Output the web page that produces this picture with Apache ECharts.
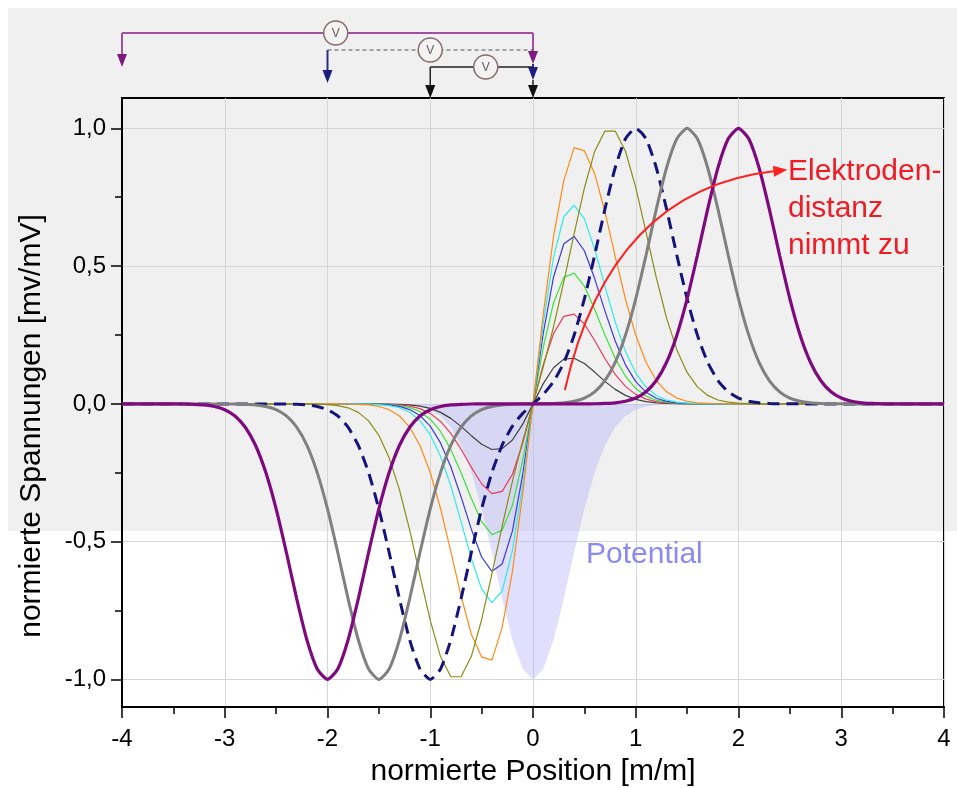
<!DOCTYPE html>
<html><head><meta charset="utf-8">
<script src="https://cdn.jsdelivr.net/npm/echarts@6/dist/echarts.min.js"></script>
<style>html,body{margin:0;padding:0;background:#fff}#c{width:957px;height:788px}</style>
</head><body><div id="c"></div>
<script>
// shared x grid (normierte Position)
const xGrid=[-4,-3.9,-3.8,-3.7,-3.6,-3.5,-3.4,-3.3,-3.2,-3.1,-3,-2.9,-2.8,-2.7,-2.6,-2.5,-2.4,-2.3,-2.2,-2.1,-2,-1.9,-1.8,-1.7,-1.6,-1.5,-1.4,-1.3,-1.2,-1.1,-1,-0.9,-0.8,-0.7,-0.6,-0.5,-0.4,-0.3,-0.2,-0.1,0,0.1,0.2,0.3,0.4,0.5,0.6,0.7,0.8,0.9,1,1.1,1.2,1.3,1.4,1.5,1.6,1.7,1.8,1.9,2,2.1,2.2,2.3,2.4,2.5,2.6,2.7,2.8,2.9,3,3.1,3.2,3.3,3.4,3.5,3.6,3.7,3.8,3.9,4];

const potential=[0,0,0,0,0, 0,0,0,0,0, 0,0,0,0,0, 0,0,0,0,0, 0,0,0,0,0,
 -0.0002,-0.0005,-0.0015,-0.0039,-0.0094,-0.0211,-0.0439,-0.0847,-0.151,-0.2494,-0.3812,-0.5394,-0.7067,-0.857,-0.9622,
 -1,
 -0.9622,-0.857,-0.7067,-0.5394,-0.3812,-0.2494,-0.151,-0.0847,-0.0439,-0.0211,-0.0094,-0.0039,-0.0015,-0.0005,-0.0002,
 0,0,0,0,0, 0,0,0,0,0, 0,0,0,0,0, 0,0,0,0,0, 0,0,0,0,0];

const vBlack=[0,0,0,0,0, 0,0,0,0,0, 0,0,0,0,0, 0,0,0,0,0, 0,0,0,0,0,
 -0.0002,-0.0006,-0.0015,-0.0037,-0.0081,-0.0165,-0.0309,-0.0526,-0.0817,-0.1154,-0.1465,-0.1656,-0.1623,-0.1312,-0.0735,
 0,
 0.0735,0.1312,0.1623,0.1656,0.1465,0.1154,0.0817,0.0526,0.0309,0.0165,0.0081,0.0037,0.0015,0.0006,0.0002,
 0,0,0,0,0, 0,0,0,0,0, 0,0,0,0,0, 0,0,0,0,0, 0,0,0,0,0];

const vRed=[0,0,0,0,0, 0,0,0,0,0, 0,0,0,0,0, 0,0,0,0,0, 0,0,0,0,
 -0.0002,-0.0005,-0.0013,-0.0034,-0.0079,-0.0172,-0.0345,-0.0636,-0.1071,-0.1647,-0.2302,-0.29,-0.3255,-0.3176,-0.2555,-0.143,
 0,
 0.143,0.2555,0.3176,0.3255,0.29,0.2302,0.1647,0.1071,0.0636,0.0345,0.0172,0.0079,0.0034,0.0013,0.0005,0.0002,
 0,0,0,0,0, 0,0,0,0,0, 0,0,0,0,0, 0,0,0,0,0, 0,0,0,0];

const vGreen=[0,0,0,0,0, 0,0,0,0,0, 0,0,0,0,0, 0,0,0,0,0, 0,0,0,
 -0.0001,-0.0003,-0.0009,-0.0023,-0.0058,-0.0133,-0.0283,-0.0555,-0.1,-0.1652,-0.2497,-0.3436,-0.4275,-0.4744,-0.4591,-0.367,-0.2047,
 0,
 0.2047,0.367,0.4591,0.4744,0.4275,0.3436,0.2497,0.1652,0.1,0.0555,0.0283,0.0133,0.0058,0.0023,0.0009,0.0003,0.0001,
 0,0,0,0,0, 0,0,0,0,0, 0,0,0,0,0, 0,0,0,0,0, 0,0,0];

const vBlue=[0,0,0,0,0, 0,0,0,0,0, 0,0,0,0,0, 0,0,0,0,0, 0,0,0,
 -0.0002,-0.0005,-0.0015,-0.0039,-0.0092,-0.0206,-0.0424,-0.0808,-0.1416,-0.2283,-0.3373,-0.4547,-0.5557,-0.6076,-0.581,-0.4606,-0.2555,
 0,
 0.2555,0.4606,0.581,0.6076,0.5557,0.4547,0.3373,0.2283,0.1416,0.0808,0.0424,0.0206,0.0092,0.0039,0.0015,0.0005,0.0002,
 0,0,0,0,0, 0,0,0,0,0, 0,0,0,0,0, 0,0,0,0,0, 0,0,0];

const vCyan=[0,0,0,0,0, 0,0,0,0,0, 0,0,0,0,0, 0,0,0,0,0, 0,0,
 -0.0001,-0.0003,-0.0009,-0.0024,-0.0061,-0.0141,-0.0304,-0.0607,-0.1118,-0.1898,-0.2971,-0.4271,-0.5618,-0.6715,-0.721,-0.6791,-0.5326,-0.2935,
 0,
 0.2935,0.5326,0.6791,0.721,0.6715,0.5618,0.4271,0.2971,0.1898,0.1118,0.0607,0.0304,0.0141,0.0061,0.0024,0.0009,0.0003,0.0001,
 0,0,0,0,0, 0,0,0,0,0, 0,0,0,0,0, 0,0,0,0,0, 0,0];

const vOrange=[0,0,0,0,0, 0,0,0,0,0, 0,0,0,0,0, 0,0,0,0,0, 0,
 -0.0002,-0.0005,-0.0015,-0.0039,-0.0094,-0.0211,-0.0439,-0.0847,-0.1508,-0.2489,-0.3797,-0.5355,-0.6973,-0.8359,-0.9183,-0.93,-0.8112,-0.6076,-0.3255,
 0,
 0.3255,0.6076,0.8112,0.93,0.9183,0.8359,0.6973,0.5355,0.3797,0.2489,0.1508,0.0847,0.0439,0.0211,0.0094,0.0039,0.0015,0.0005,0.0002,
 0,0,0,0,0, 0,0,0,0,0, 0,0,0,0,0, 0,0,0,0,0, 0];

const vOlive=[0,0,0,0,0, 0,0,0,0,0, 0,0,0,0,0, 0,0,
 -0.0001,-0.0003,-0.0009,-0.0024,-0.0061,-0.0142,-0.0307,-0.0616,-0.1142,-0.1959,-0.3113,-0.4578,-0.6234,-0.7857,-0.9169,-0.9903,-0.9901,-0.916,-0.7833,-0.6173,-0.4436,-0.2806,-0.1343,
 0,
 0.1343,0.2806,0.4436,0.6173,0.7833,0.916,0.9901,0.9903,0.9169,0.7857,0.6234,0.4578,0.3113,0.1959,0.1142,0.0616,0.0307,0.0142,0.0061,0.0024,0.0009,0.0003,0.0001,
 0,0,0,0,0, 0,0,0,0,0, 0,0,0,0,0, 0,0];

const vNavy=[0,0,0,0,0, 0,0,0,0,0, 0,0,0,0,0,
 -0.0002,-0.0005,-0.0015,-0.0039,-0.0094,-0.0211,-0.0439,-0.0847,-0.151,-0.2494,-0.3812,-0.5394,-0.7067,-0.857,-0.9622,-1,-0.9622,-0.857,-0.7067,-0.5394,-0.381,-0.2489,-0.1495,-0.0808,-0.0345,
 0,
 0.0345,0.0808,0.1495,0.2489,0.381,0.5394,0.7067,0.857,0.9622,1,0.9622,0.857,0.7067,0.5394,0.3812,0.2494,0.151,0.0847,0.0439,0.0211,0.0094,0.0039,0.0015,0.0005,0.0002,
 0,0,0,0,0, 0,0,0,0,0, 0,0,0,0,0];

const vGray=[0,0,0,0,0, 0,0,0,0,0,
 -0.0002,-0.0005,-0.0015,-0.0039,-0.0094,-0.0211,-0.0439,-0.0847,-0.151,-0.2494,-0.3812,-0.5394,-0.7067,-0.857,-0.9622,-1,-0.9622,-0.857,-0.7067,-0.5394,-0.3812,-0.2494,-0.151,-0.0847,-0.0439,-0.0211,-0.0094,-0.0039,-0.0015,-0.0005,
 0,
 0.0005,0.0015,0.0039,0.0094,0.0211,0.0439,0.0847,0.151,0.2494,0.3812,0.5394,0.7067,0.857,0.9622,1,0.9622,0.857,0.7067,0.5394,0.3812,0.2494,0.151,0.0847,0.0439,0.0211,0.0094,0.0039,0.0015,0.0005,0.0002,
 0,0,0,0,0, 0,0,0,0,0];

const vPurple=[0,0,0,0,0,
 -0.0002,-0.0005,-0.0015,-0.0039,-0.0094,-0.0211,-0.0439,-0.0847,-0.151,-0.2494,-0.3812,-0.5394,-0.7067,-0.857,-0.9622,-1,-0.9622,-0.857,-0.7067,-0.5394,-0.3812,-0.2494,-0.151,-0.0847,-0.0439,-0.0211,-0.0094,-0.0039,-0.0015,-0.0005,-0.0002,0,0,0,0,
 0,
 0,0,0,0,0.0002,0.0005,0.0015,0.0039,0.0094,0.0211,0.0439,0.0847,0.151,0.2494,0.3812,0.5394,0.7067,0.857,0.9622,1,0.9622,0.857,0.7067,0.5394,0.3812,0.2494,0.151,0.0847,0.0439,0.0211,0.0094,0.0039,0.0015,0.0005,0.0002,
 0,0,0,0,0];

const yLabelValues=[-1,-0.5,0,0.5,1];
const yMinorValues=[-0.75,-0.25,0.25,0.75];

const FONT='"Liberation Sans", Arial, sans-serif';
const pairs=ys=>xGrid.map((x,i)=>[x,ys[i]]);
const chart=echarts.init(document.getElementById('c'),null,{renderer:'canvas'});

function thin(name,ys,color){
  return {name,type:'line',data:pairs(ys),showSymbol:false,symbol:'none',z:3,
    lineStyle:{color,width:1.2},emphasis:{disabled:true}};
}
function thick(name,ys,color,width,type,z){
  return {name,type:'line',data:pairs(ys),showSymbol:false,symbol:'none',z:z,smooth:0.2,
    lineStyle:{color,width,type},emphasis:{disabled:true}};
}
const option={
  animation:false,
  grid:{left:122,right:13,top:98,bottom:81,show:true,borderColor:'#000',borderWidth:2,
    backgroundColor:'transparent',containLabel:false,outerBoundsMode:'none'},
  xAxis:{type:'value',min:-4,max:4,interval:1,
    name:'normierte Position [m/m]',nameLocation:'middle',nameGap:50,
    nameTextStyle:{fontSize:30,color:'#000',fontFamily:FONT},
    axisLine:{show:true,onZero:false,lineStyle:{color:'#000',width:2}},
    axisTick:{show:true,inside:false,length:11,lineStyle:{color:'#000',width:1.5}},
    minorTick:{show:true,splitNumber:2,length:7,lineStyle:{color:'#000',width:1.5}},
    axisLabel:{fontSize:24,color:'#000',fontFamily:FONT,margin:20},
    splitLine:{show:true,lineStyle:{color:'#d6d6d6',width:1}}},
  yAxis:[{type:'value',min:-1.1,max:1.11,
    axisLine:{show:true,onZero:false,lineStyle:{color:'#000',width:2}},
    axisTick:{show:true,length:11,customValues:yLabelValues,lineStyle:{color:'#000',width:1.5}},
    axisLabel:{fontSize:24,color:'#000',fontFamily:FONT,margin:16,customValues:yLabelValues,
      formatter:v=>v.toFixed(1).replace('.',',')},
    splitLine:{show:true,lineStyle:{color:'#d6d6d6',width:1}}},
   {type:'value',min:-1.1,max:1.11,position:'left',
    axisLine:{show:false,onZero:false},axisLabel:{show:false},splitLine:{show:false},
    axisTick:{show:true,length:7,customValues:yMinorValues,lineStyle:{color:'#000',width:1.5}}}],
  series:[
    {name:'Potential',type:'line',data:pairs(potential),showSymbol:false,symbol:'none',z:1,
      lineStyle:{width:0,opacity:0},areaStyle:{color:'rgba(180,180,250,0.6)',origin:'auto'}},
    thin('d1',vBlack,'#404040'),
    thin('d2',vRed,'#ea3a5c'),
    thin('d3',vGreen,'#3ee03e'),
    thin('d4',vBlue,'#3a3ae0'),
    thin('d5',vCyan,'#2eeaea'),
    thin('d6',vOrange,'#ff8a1a'),
    thin('d7',vOlive,'#8c8c18'),
    thick('d8',vNavy,'#14147a',3,[12,7],4),
    thick('d9',vGray,'#808080',3,'solid',4),
    thick('d10',vPurple,'#7e0a7e',3.2,'solid',5)
  ]
};
chart.setOption(option);

// annotation positions (data coordinates)
const arrowArc={start:[0.31,0.05],ctrl:[0.75,0.78],end:[2.36,0.845]};
const P=(x,y)=>chart.convertToPixel({gridIndex:0},[x,y]);
const g=[];
g.push({type:'rect',z:-100,shape:{x:8,y:8,width:949,height:523},style:{fill:'#f0f0f0'},silent:true});

// y axis title
g.push({type:'text',z:50,x:32,y:426,rotation:Math.PI/2,style:{text:'normierte Spannungen [mv/mV]',fill:'#000',
  font:'30px '+FONT,textAlign:'center',textVerticalAlign:'middle'}});

const s=P(...arrowArc.start), c=P(...arrowArc.ctrl), e=P(...arrowArc.end);
g.push({type:'bezierCurve',z:50,shape:{x1:s[0],y1:s[1],cpx1:c[0],cpy1:c[1],x2:e[0],y2:e[1]},
  style:{stroke:'#ff2020',lineWidth:2,fill:null}});
{
  const dx=e[0]-c[0], dy=e[1]-c[1], L=Math.hypot(dx,dy), ux=dx/L, uy=dy/L;
  const tip=[e[0]+ux*12,e[1]+uy*12], nx=-uy, ny=ux;
  g.push({type:'polygon',z:50,shape:{points:[tip,[e[0]-ux*2+nx*5.5,e[1]-uy*2+ny*5.5],[e[0]-ux*2-nx*5.5,e[1]-uy*2-ny*5.5]]},
    style:{fill:'#ff2020'}});
}
g.push({type:'text',z:50,x:788,y:153,style:{text:'Elektroden-\ndistanz\nnimmt zu',fill:'#ee1c25',
  font:'30px '+FONT,lineHeight:37,textAlign:'left',textVerticalAlign:'top'}});
g.push({type:'text',z:50,x:586,y:540,style:{text:'Potential',fill:'#8a8af2',font:'30px '+FONT,
  textAlign:'left',textVerticalAlign:'top'}});

// measurement schematic above the plot
const X=v=>P(v,0)[0];
function arrowDown(x,yTip,color){
  return {type:'polygon',z:50,shape:{points:[[x-5,yTip-13],[x+5,yTip-13],[x,yTip]]},style:{fill:color}};
}
function vline(x,y1,y2,color,w,dash){
  return {type:'line',z:50,shape:{x1:x,y1:y1,x2:x,y2:y2},style:{stroke:color,lineWidth:w||1.5,lineDash:dash||null}};
}
function hline(x1,x2,y,color,w,dash){
  return {type:'line',z:50,shape:{x1:x1,y1:y,x2:x2,y2:y},style:{stroke:color,lineWidth:w||1.5,lineDash:dash||null}};
}
function meter(x,y){
  return [{type:'circle',z:51,shape:{cx:x,cy:y,r:12},style:{fill:'#f3f3f3',stroke:'#8a6c6c',lineWidth:1.5}},
    {type:'text',z:52,x:x,y:y+1,style:{text:'V',fill:'#6a5a5a',font:'12px '+FONT,textAlign:'center',textVerticalAlign:'middle'}}];
}
const x0=X(0), xm4=X(-4), xm2=X(-2), xm1=X(-1);
// purple pair (-4 .. 0)
g.push(hline(xm4,x0,33,'#a24ea2',2));
g.push(vline(xm4,33,55,'#a24ea2',2)); g.push(arrowDown(xm4,67,'#7e1a7e'));
g.push(vline(x0,33,52,'#a24ea2',2)); g.push(arrowDown(x0,64,'#7e1a7e'));
g.push(...meter(X(-1.92),33));
// navy dashed pair (-2 .. 0)
g.push(hline(xm2,x0,50,'#555',1.2,[4,3]));
g.push(vline(xm2,50,70,'#2b2b8c',2)); g.push(arrowDown(xm2,83,'#1e1e80'));
g.push(vline(x0,64,68,'#2b2b8c',2)); g.push(arrowDown(x0,80,'#1e1e80'));
g.push(...meter(X(-1.0),50));
// black pair (-1 .. 0)
g.push(hline(xm1,x0,67,'#222',1.5));
g.push(vline(xm1,67,86,'#222',1.5)); g.push(arrowDown(xm1,98,'#111'));
g.push(vline(x0,80,86,'#222',1.5)); g.push(arrowDown(x0,98,'#111'));
g.push(...meter(X(-0.46),67));

chart.setOption({graphic:{elements:g}});
</script></body></html>
